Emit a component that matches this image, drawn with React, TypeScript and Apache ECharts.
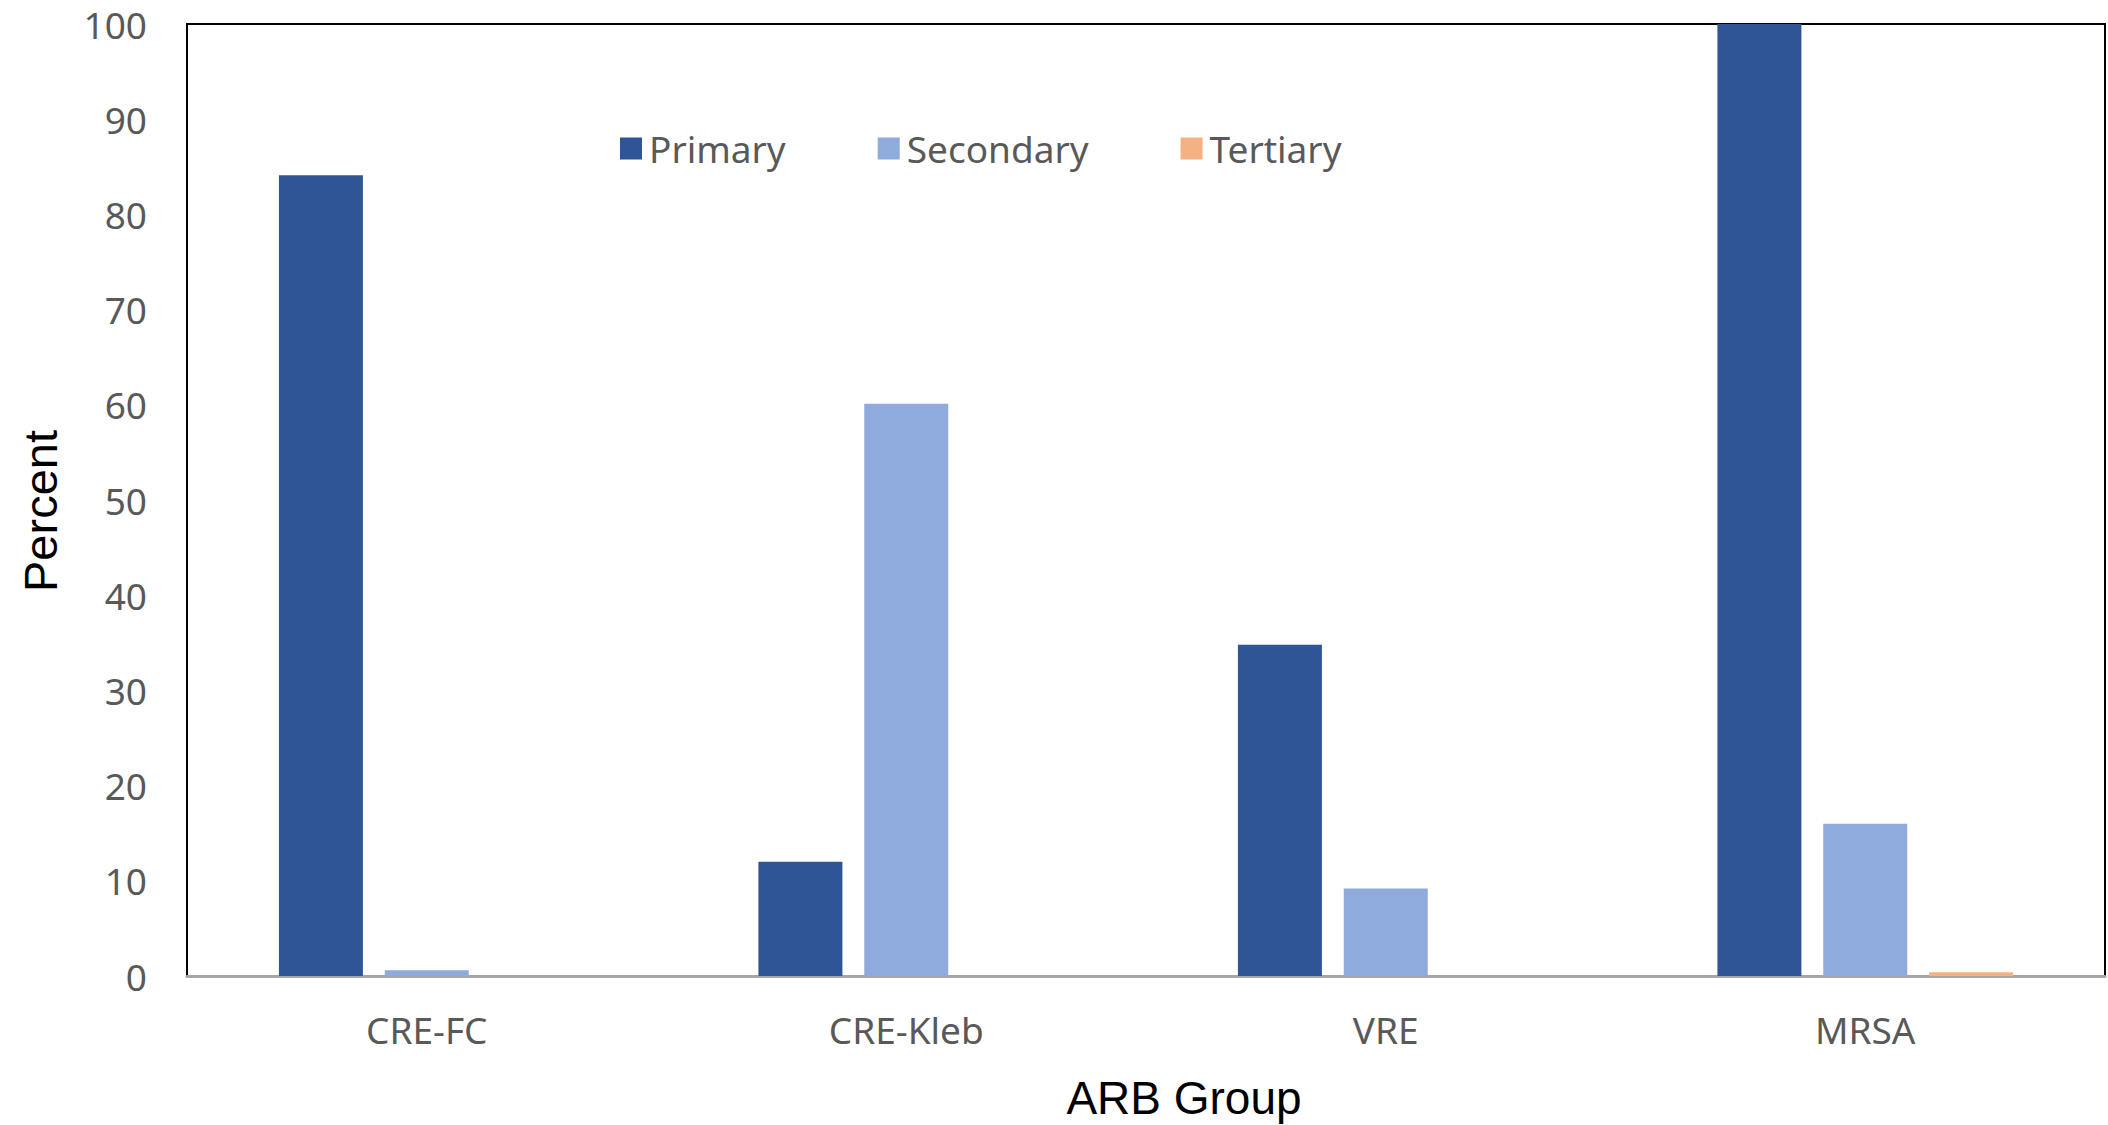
import React, { useEffect, useRef } from "react";
import * as echarts from "echarts";

// ARB groups on the category axis
const categories = ["CRE-FC", "CRE-Kleb", "VRE", "MRSA"];

// Percent of isolates per source level
const primary = [84.1, 12.0, 34.8, 100];
const secondary = [0.6, 60.1, 9.2, 16.0];
const tertiary = [0, 0, 0, 0.4];

const yTicks = { min: 0, max: 100, interval: 10 };

const COLORS = {
  primary: "#2F5597",
  secondary: "#8FAADC",
  tertiary: "#F4B183",
};

const LABEL_FONT = "'Noto Sans', 'Open Sans', sans-serif";
const TITLE_FONT = "'Liberation Sans', Arial, sans-serif";

export default function App() {
  const ref = useRef<HTMLDivElement>(null);

  useEffect(() => {
    if (!ref.current) return;
    const chart = echarts.init(ref.current, null, { renderer: "svg" });

    const bar = (name: string, data: number[], color: string) => ({
      name,
      type: "bar",
      data,
      barWidth: 84,
      barGap: "26%",
      itemStyle: { color },
    });

    chart.setOption({
      animation: false,
      backgroundColor: "#ffffff",
      grid: {
        left: 187,
        right: 3,
        top: 24,
        bottom: 149,
        show: true,
        borderColor: "#000000",
        borderWidth: 2,
        backgroundColor: "transparent",
      },
      legend: {
        left: 615,
        top: 125,
        itemWidth: 22,
        itemHeight: 22,
        itemGap: 92,
        icon: "rect",
        textStyle: {
          fontFamily: LABEL_FONT,
          fontSize: 37,
          color: "#595959",
          padding: [0, 0, 0, 2],
        },
        data: ["Primary", "Secondary", "Tertiary"],
      },
      xAxis: {
        type: "category",
        data: categories,
        axisLine: { show: true, lineStyle: { color: "#a6a6a6", width: 3 } },
        axisTick: { show: false },
        axisLabel: {
          fontFamily: LABEL_FONT,
          fontSize: 37,
          color: "#595959",
          margin: 35,
        },
        splitLine: { show: false },
      },
      yAxis: {
        type: "value",
        min: yTicks.min,
        max: yTicks.max,
        interval: yTicks.interval,
        axisLine: { show: true, lineStyle: { color: "#000000", width: 2 } },
        axisTick: { show: false },
        splitLine: { show: false },
        axisLabel: {
          fontFamily: LABEL_FONT,
          fontSize: 37,
          color: "#595959",
          margin: 40,
        },
      },
      graphic: [
        {
          type: "text",
          x: 1184,
          y: 1098,
          style: {
            text: "ARB Group",
            fontFamily: TITLE_FONT,
            fontSize: 46,
            fill: "#000000",
            align: "center",
            verticalAlign: "middle",
          },
        },
        {
          type: "text",
          x: 40,
          y: 511,
          rotation: Math.PI / 2,
          style: {
            text: "Percent",
            fontFamily: TITLE_FONT,
            fontSize: 47,
            fill: "#000000",
            align: "center",
            verticalAlign: "middle",
          },
        },
      ],
      series: [
        bar("Primary", primary, COLORS.primary),
        bar("Secondary", secondary, COLORS.secondary),
        bar("Tertiary", tertiary, COLORS.tertiary),
      ],
    });

    return () => chart.dispose();
  }, []);

  return (
    <div
      ref={ref}
      style={{ position: "fixed", left: 0, top: 0, width: 2108, height: 1125, background: "#fff" }}
    />
  );
}
